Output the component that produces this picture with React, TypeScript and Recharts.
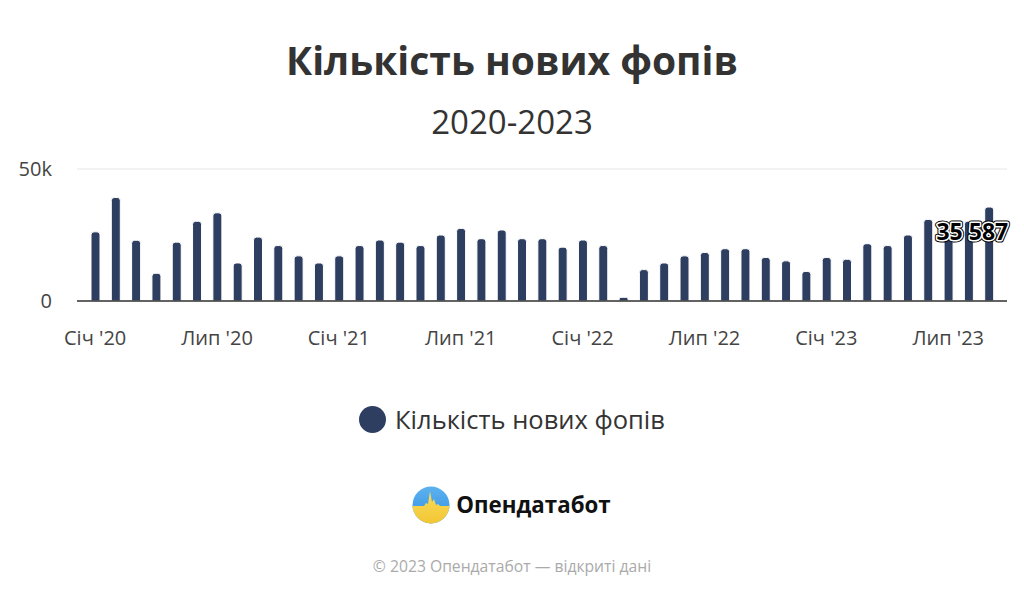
import React from "react";
import { BarChart, Bar, XAxis, YAxis, CartesianGrid, LabelList, Legend } from "recharts";

const months: string[] = [
  "Січ '20", "Лют '20", "Бер '20", "Кві '20", "Тра '20", "Чер '20", "Лип '20", "Сер '20", "Вер '20", "Жов '20", "Лис '20", "Гру '20",
  "Січ '21", "Лют '21", "Бер '21", "Кві '21", "Тра '21", "Чер '21", "Лип '21", "Сер '21", "Вер '21", "Жов '21", "Лис '21", "Гру '21",
  "Січ '22", "Лют '22", "Бер '22", "Кві '22", "Тра '22", "Чер '22", "Лип '22", "Сер '22", "Вер '22", "Жов '22", "Лис '22", "Гру '22",
  "Січ '23", "Лют '23", "Бер '23", "Кві '23", "Тра '23", "Чер '23", "Лип '23", "Сер '23", "Вер '23",
];

const newFops: number[] = [
  26200, 39200, 23000, 10500, 22300, 30200, 33400, 14400, 24200, 21000, 17100, 14400,
  17100, 21000, 23100, 22300, 21000, 25000, 27500, 23600, 26900, 23600, 23600, 20400,
  23100, 21000, 1400, 11900, 14400, 17100, 18400, 19800, 19800, 16500, 15200, 11200,
  16500, 15800, 21700, 21000, 25000, 30900, 26500, 30200, 35587,
];

const yTicks: number[] = [0, 50000];

const seriesName = "Кількість нових фопів";
const titleText = "Кількість нових фопів";
const subtitleText = "2020-2023";
const brandText = "Опендатабот";
const footerText = "© 2023 Опендатабот — відкриті дані";

const barColor = "#2e3e60";
const font = "'Open Sans', sans-serif";

const data = months.map((m, i) => ({ month: m, value: newFops[i] }));

const fmtThousands = (v: number) => String(v).replace(/\B(?=(\d{3})+(?!\d))/g, " ");

const LastLabel = (props: any) => {
  const { x, y, width, value, index } = props;
  if (index !== newFops.length - 1) return null;
  const cx = Number(x) + Number(width) / 2;
  const tx = cx + 19;
  const ty = Number(y) + 33;
  const txt = fmtThousands(Number(value));
  const common = {
    x: tx,
    y: ty,
    textAnchor: "end" as const,
    fontFamily: font,
    fontWeight: 700,
    fontSize: 23,
    strokeLinejoin: "round" as const,
  };
  return (
    <g>
      <text {...common} fill="#000" stroke="#000" strokeWidth={5}>{txt}</text>
      <text {...common} fill="#000" stroke="#fff" strokeWidth={3}>{txt}</text>
      <text {...common} fill="#000">{txt}</text>
    </g>
  );
};

const LegendContent = () => (
  <div style={{ display: "flex", alignItems: "center", justifyContent: "center", fontFamily: font }}>
    <svg width={27} height={27} style={{ display: "block" }}>
      <circle cx={13.5} cy={13.5} r={13.5} fill={barColor} />
    </svg>
    <span style={{ marginLeft: 9, fontSize: 25.5, color: "#333", lineHeight: "30px" }}>{seriesName}</span>
  </div>
);

const Logo = () => (
  <svg width={40} height={40} viewBox="0 0 40 40" style={{ display: "block" }}>
    <defs>
      <clipPath id="logoClip">
        <circle cx={20} cy={20} r={18.5} />
      </clipPath>
      <linearGradient id="blueG" x1="0" y1="0" x2="0" y2="1">
        <stop offset="0" stopColor="#5fb3f0" />
        <stop offset="1" stopColor="#2f8ee0" />
      </linearGradient>
      <linearGradient id="yellowG" x1="0" y1="0" x2="0" y2="1">
        <stop offset="0" stopColor="#f9dc5c" />
        <stop offset="1" stopColor="#f2c531" />
      </linearGradient>
    </defs>
    <g clipPath="url(#logoClip)">
      <rect x={0} y={0} width={40} height={40} fill="url(#blueG)" />
      <path
        d="M0 21 L13 21 L15 18 L17 19 L19 6 L21 17 L23 14 L25 20 L27 19 L29 21 L40 21 L40 40 L0 40 Z"
        fill="url(#yellowG)"
      />
    </g>
  </svg>
);

export default function App() {
  return (
    <div style={{ position: "absolute", top: 0, left: 0, width: 1024, height: 597, background: "#fff", fontFamily: font }}>
      <div style={{ position: "absolute", top: 35, left: 0, width: 1024, textAlign: "center", fontSize: 39, fontWeight: 700, color: "#333", lineHeight: "50px" }}>
        {titleText}
      </div>
      <div style={{ position: "absolute", top: 101, left: 0, width: 1024, textAlign: "center", fontSize: 33, color: "#333", lineHeight: "42px" }}>
        {subtitleText}
      </div>
      <div style={{ position: "absolute", top: 0, left: 0 }}>
        <BarChart width={1024} height={597} data={data} margin={{ top: 169, right: 17, bottom: 256, left: 0 }}>
          <CartesianGrid vertical={false} stroke="#e6e6e6" />
          <XAxis
            dataKey="month"
            interval={5}
            tickLine={false}
            tickSize={0}
            tickMargin={30}
            height={40}
            padding={{ left: 8, right: 8 }}
            axisLine={{ stroke: "#333", strokeWidth: 1.5 }}
            tick={{ fill: "#444", fontSize: 20, fontFamily: font }}
          />
          <YAxis
            width={77}
            domain={[0, 50000]}
            ticks={yTicks}
            tickFormatter={(v: number) => (v === 0 ? "0" : `${v / 1000}k`)}
            axisLine={false}
            tickLine={false}
            tickSize={0}
            tickMargin={25}
            tick={{ fill: "#444", fontSize: 20, fontFamily: font }}
          />
          <Legend
            layout="horizontal"
            verticalAlign="middle"
            align="center"
            content={LegendContent as any}
            wrapperStyle={{ top: 404, left: 0, width: 1024 }}
          />
          <Bar
            dataKey="value"
            name={seriesName}
            fill={barColor}
            stroke="#fff"
            strokeWidth={1}
            barSize={9}
            radius={[3, 3, 0, 0]}
            isAnimationActive={false}
          >
            <LabelList dataKey="value" content={LastLabel as any} />
          </Bar>
        </BarChart>
      </div>
      <div style={{ position: "absolute", top: 485, left: 0, width: 1024, display: "flex", justifyContent: "center", alignItems: "center" }}>
        <div style={{ display: "flex", alignItems: "center", marginLeft: -2 }}>
          <Logo />
          <span style={{ marginLeft: 5, fontSize: 22.3, fontWeight: 700, color: "#111", lineHeight: "40px" }}>{brandText}</span>
        </div>
      </div>
      <div style={{ position: "absolute", top: 555, left: 0, width: 1024, textAlign: "center", fontSize: 15.7, color: "#aaa", lineHeight: "22px" }}>
        {footerText}
      </div>
    </div>
  );
}
